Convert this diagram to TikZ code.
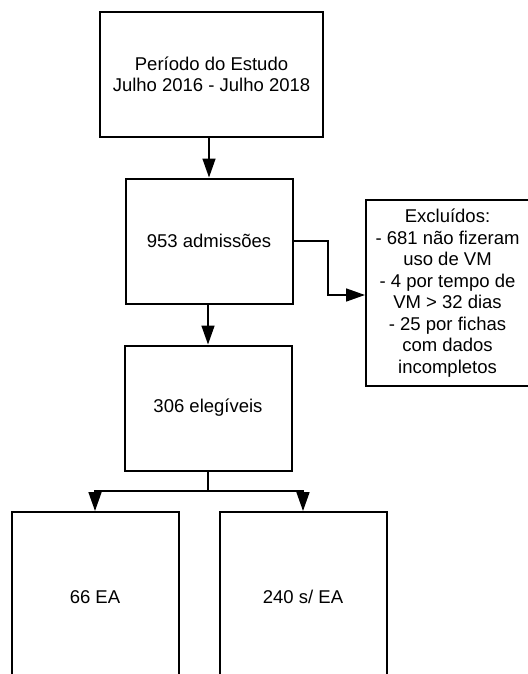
\documentclass[tikz,border=0pt]{standalone}
\usepackage{fontspec}
\setmainfont{Liberation Sans}
\usetikzlibrary{arrows.meta}
\tikzset{%
	box/.style     = {draw, line width=2pt, rectangle, align=center,
		minimum width=167pt, minimum height=125pt, inner sep=0pt,
		font=\fontsize{18.5}{21.5}\selectfont},
	exclbox/.style = {box, minimum width=163pt, minimum height=186pt},
	link/.style    = {line width=1.6pt, -{Triangle[width=13pt,length=19pt]}}
}
\begin{document}
\begin{tikzpicture}[x=1pt,y=1pt]
	\useasboundingbox (0,0) rectangle (527,-674);
	\node[box, minimum width=223pt] (periodo) at (211.5,-74.5) {Período do Estudo\\Julho 2016 - Julho 2018};
	\node[box] (admissoes) at (209,-241) {953 admissões};
	\node[box] (elegiveis) at (208,-408) {306 elegíveis};
	\node[exclbox] (excluidos) at (447.5,-293) {Excluídos:\\- 681 não fizeram\\uso de VM\\- 4 por tempo de\\VM > 32 dias\\- 25 por fichas\\com dados\\incompletos};
	\node[box, minimum height=170pt] (comea) at (95,-597) {66 EA};
	\node[box, minimum height=170pt] (semea) at (303,-597) {240 s/ EA};
	\coordinate (split) at (208,-491);

	\draw[link] (periodo.south -| admissoes.north) -- (admissoes.north);
	\draw[link] (admissoes.south -| elegiveis.north) -- (elegiveis.north);
	\draw[link] (admissoes.east) -- (328,-241) -- (328,-295) -- (excluidos.west |- 0,-295);
	\draw[line width=1.6pt] (elegiveis.south) -- (split);
	\draw[link] (split) -| (comea.north);
	\draw[link] (split) -| (semea.north);
\end{tikzpicture}
\end{document}
